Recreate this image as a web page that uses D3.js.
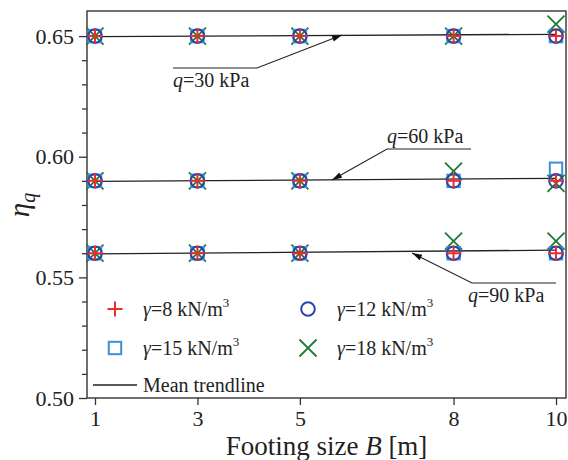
<!DOCTYPE html>
<html><head><meta charset="utf-8">
<script src="https://cdn.jsdelivr.net/npm/d3@7/dist/d3.min.js"></script>
<style>html,body{margin:0;padding:0;background:#fff;}svg{display:block;font-family:"Liberation Serif","Times New Roman",serif;}</style>
</head><body>
<svg id="chart" width="568" height="460"></svg>
<script>
// ---- data ----
const footingB = [1, 3, 5, 8, 10];
const xTicks = [1, 3, 5, 8, 10];
const yTicks = [0.50, 0.55, 0.60, 0.65];
const loads = [30, 60, 90];
const gamma8  = {30: [0.65,0.65,0.65,0.65,0.65], 60: [0.59,0.59,0.59,0.59,0.59], 90: [0.56,0.56,0.56,0.56,0.56]};
const gamma12 = {30: [0.65,0.65,0.65,0.65,0.65], 60: [0.59,0.59,0.59,0.59,0.59], 90: [0.56,0.56,0.56,0.56,0.56]};
const gamma15 = {30: [0.65,0.65,0.65,0.65,0.65], 60: [0.59,0.59,0.59,0.59,0.595], 90: [0.56,0.56,0.56,0.56,0.56]};
const gamma18 = {30: [0.65,0.65,0.65,0.65,0.655], 60: [0.59,0.59,0.59,0.594,0.589], 90: [0.56,0.56,0.56,0.565,0.565]};
const gammaValues = [8, 12, 15, 18];
const annotationText = ["q=30 kPa", "q=60 kPa", "q=90 kPa"];

// ---- layout ----
const svg = d3.select("#chart");
const L = 87, R = 566, T = 11, Bt = 398;
const x = d3.scaleLinear().domain([0.844, 10.195]).range([L, R]);
const y = d3.scaleLinear().domain([0.5, 0.6604]).range([Bt, T]);

const series = [
  {g: 18, vals: gamma18, sym: "cross",  color: "#1e7b32"},
  {g: 15, vals: gamma15, sym: "square", color: "#3d8fd9"},
  {g: 12, vals: gamma12, sym: "circle", color: "#2b46a6"},
  {g: 8,  vals: gamma8,  sym: "plus",   color: "#ee2a2a"}
];

function drawMarker(g, sym, cx, cy, color) {
  if (sym === "plus") {
    g.append("path").attr("d", `M${cx-7.5},${cy}H${cx+7.5}M${cx},${cy-7.5}V${cy+7.5}`)
      .attr("stroke", color).attr("stroke-width", 2).attr("fill", "none");
  } else if (sym === "cross") {
    const h = 8.5;
    g.append("path").attr("d", `M${cx-h},${cy-h}L${cx+h},${cy+h}M${cx-h},${cy+h}L${cx+h},${cy-h}`)
      .attr("stroke", color).attr("stroke-width", 1.8).attr("fill", "none");
  } else if (sym === "square") {
    g.append("rect").attr("x", cx-6.2).attr("y", cy-6.2).attr("width", 12.4).attr("height", 12.4)
      .attr("stroke", color).attr("stroke-width", 2).attr("fill", "none");
  } else {
    g.append("circle").attr("cx", cx).attr("cy", cy).attr("r", 6.8)
      .attr("stroke", color).attr("stroke-width", 2).attr("fill", "none");
  }
}

// ---- axes ----
const yMinor = d3.range(0.51, 0.655, 0.01).filter(v => Math.abs(Math.round(v*100) % 5) !== 0);
svg.append("g").attr("transform", `translate(${L},0)`)
  .call(d3.axisLeft(y).tickValues(yMinor).tickSize(5).tickFormat(""))
  .call(g => g.select(".domain").remove())
  .call(g => g.selectAll("line").attr("stroke", "#333").attr("stroke-width", 1.3));
const yAx = svg.append("g").attr("transform", `translate(${L},0)`)
  .call(d3.axisLeft(y).tickValues(yTicks).tickSize(8).tickPadding(5).tickFormat(d3.format(".2f")));
yAx.select(".domain").remove();
yAx.selectAll("line").attr("stroke", "#333").attr("stroke-width", 1.3);
yAx.selectAll("text").attr("font-family", "Liberation Serif").attr("font-size", 22).attr("fill", "#222").attr("dy", "0.33em");

const xAx = svg.append("g").attr("transform", `translate(0,${Bt})`)
  .call(d3.axisBottom(x).tickValues(xTicks).tickSize(7).tickPadding(5).tickFormat(d3.format("d")));
xAx.select(".domain").remove();
xAx.selectAll("line").attr("stroke", "#333").attr("stroke-width", 1.3);
xAx.selectAll("text").attr("font-family", "Liberation Serif").attr("font-size", 22).attr("fill", "#222");

// frame
svg.append("rect").attr("x", L).attr("y", T).attr("width", R-L).attr("height", Bt-T)
  .attr("fill", "none").attr("stroke", "#333").attr("stroke-width", 1.4);

// axis titles
const xt = svg.append("text").attr("x", (L+R)/2).attr("y", 455).attr("text-anchor", "middle")
  .attr("font-size", 27).attr("fill", "#222");
xt.append("tspan").text("Footing size ");
xt.append("tspan").attr("font-style", "italic").text("B");
xt.append("tspan").text(" [m]");

const yt = svg.append("text").attr("transform", "translate(29,205) rotate(-90)").attr("text-anchor", "middle")
  .attr("font-size", 29).attr("fill", "#222").attr("font-style", "italic");
yt.append("tspan").text("η");
yt.append("tspan").attr("font-size", 20).attr("dy", 6).text("q");

// ---- trendlines (least squares on means) ----
const plot = svg.append("g");
loads.forEach(q => {
  const means = footingB.map((b, i) => d3.mean(series, s => s.vals[q][i]));
  const mx = d3.mean(footingB), my = d3.mean(means);
  const slope = d3.sum(footingB, (b, i) => (b-mx)*(means[i]-my)) / d3.sum(footingB, b => (b-mx)*(b-mx));
  const f = b => my + slope*(b-mx);
  plot.append("line").attr("x1", x(1)).attr("x2", x(10)).attr("y1", y(f(1))).attr("y2", y(f(10)))
    .attr("stroke", "#222").attr("stroke-width", 1.3);
});

// ---- points ----
series.forEach(s => {
  loads.forEach(q => {
    footingB.forEach((b, i) => drawMarker(plot, s.sym, x(b), y(s.vals[q][i]), s.color));
  });
});

// ---- annotations ----
svg.append("defs").append("marker").attr("id", "arr").attr("viewBox", "0 0 10 6")
  .attr("refX", 10).attr("refY", 3).attr("markerWidth", 12).attr("markerHeight", 6)
  .attr("markerUnits", "userSpaceOnUse").attr("orient", "auto")
  .append("path").attr("d", "M0,0L10,3L0,6Z").attr("fill", "#111");

const annotations = [
  {label: annotationText[0], a: [4.163, 0.63676], b: [2.523, 0.63676], tip: [5.823, 0.65044], tx: 2.523, ty: 0.6289},
  {label: annotationText[1], a: [6.701, 0.60319], b: [8.341, 0.60319], tip: [5.627, 0.59034], tx: 6.701, ty: 0.6056},
  {label: annotationText[2], a: [8.361, 0.54766], b: [10.0, 0.54766], tip: [7.189, 0.56009], tx: 8.283, ty: 0.5398}
];
annotations.forEach(an => {
  svg.append("path")
    .attr("d", `M${x(an.b[0])},${y(an.b[1])}L${x(an.a[0])},${y(an.a[1])}L${x(an.tip[0])},${y(an.tip[1])}`)
    .attr("fill", "none").attr("stroke", "#222").attr("stroke-width", 1.1).attr("marker-end", "url(#arr)");
  const t = svg.append("text").attr("x", x(an.tx)).attr("y", y(an.ty)).attr("font-size", 20).attr("fill", "#222");
  t.append("tspan").attr("font-style", "italic").text(an.label.slice(0, 1));
  t.append("tspan").text(an.label.slice(1));
});

// ---- legend ----
const legendItems = [
  {g: gammaValues[0], sym: "plus",   color: "#ee2a2a", mx: 115, tx: 143, ly: 309},
  {g: gammaValues[1], sym: "circle", color: "#2b46a6", mx: 308, tx: 337, ly: 309},
  {g: gammaValues[2], sym: "square", color: "#3d8fd9", mx: 115, tx: 143, ly: 348},
  {g: gammaValues[3], sym: "cross",  color: "#1e7b32", mx: 308, tx: 337, ly: 348}
];
const leg = svg.append("g");
legendItems.forEach(it => {
  drawMarker(leg, it.sym, it.mx, it.ly, it.color);
  const t = leg.append("text").attr("x", it.tx).attr("y", it.ly + 7).attr("font-size", 20).attr("fill", "#222");
  t.append("tspan").attr("font-style", "italic").text("γ");
  t.append("tspan").text(`=${it.g} kN/m`);
  t.append("tspan").attr("font-size", 13).attr("dy", -9).text("3");
});
leg.append("line").attr("x1", 93).attr("x2", 137).attr("y1", 385).attr("y2", 385).attr("stroke", "#222").attr("stroke-width", 1.3);
leg.append("text").attr("x", 143).attr("y", 392).attr("font-size", 20).attr("fill", "#222").text("Mean trendline");
</script>
</body></html>
